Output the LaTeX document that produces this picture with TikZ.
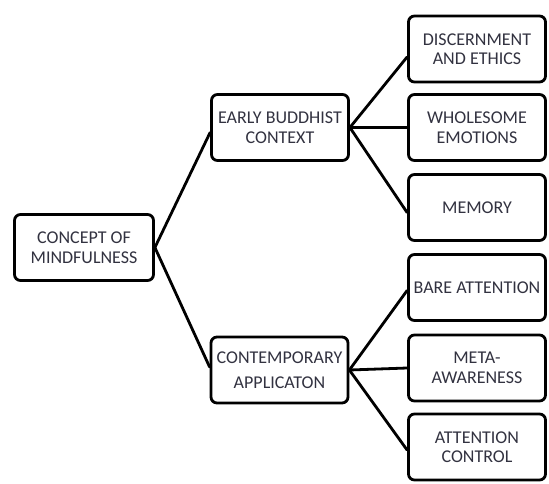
\documentclass[tikz,border=0pt]{standalone}
\usepackage{fontspec}
\setmainfont{Carlito}
\usepackage{tikz}
\definecolor{labelgray}{RGB}{50,50,64}

\begin{document}
\begin{tikzpicture}[x=1pt, y=-1pt, line width=2.8pt,
    box/.style={draw=black, rounded corners=6pt, fill=white,
        minimum width=137pt, minimum height=66pt, inner sep=1pt,
        align=center, text=labelgray,
        font=\fontsize{18}{19.5}\selectfont},
    link/.style={draw=black, line cap=round}]
    \useasboundingbox (0,0) rectangle (549,483);

    % Root of the tree
    \node[box, minimum width=139pt] (concept) at (84,247.5) {CONCEPT OF\\MINDFULNESS};

    % Two branches
    \node[box] (early) at (280,127.5) {EARLY BUDDHIST\\CONTEXT};
    \node[box] (contemp) at (279.5,370) {CONTEMPORARY\\[5pt]APPLICATON};

    % Leaves of the early branch
    \node[box] (discern) at (477,49) {DISCERNMENT\\AND ETHICS};
    \node[box] (whole) at (477,127.5) {WHOLESOME\\EMOTIONS};
    \node[box] (memory) at (477,207.5) {MEMORY};

    % Leaves of the contemporary branch
    \node[box] (bare) at (477,287.5) {BARE ATTENTION};
    \node[box] (meta) at (477,368) {META-\\AWARENESS};
    \node[box] (control) at (477,447) {ATTENTION\\CONTROL};

    % Connectors
    \draw[link] (concept.east) -- ([yshift=-5pt]early.west);
    \draw[link] (concept.east) -- ([yshift=3pt]contemp.west);
    \draw[link] (early.east) -- ([yshift=-8pt]discern.west);
    \draw[link] (early.east) -- (whole.west);
    \draw[link] (early.east) -- ([yshift=-5pt]memory.west);
    \draw[link] (contemp.east) -- ([yshift=-3pt]bare.west);
    \draw[link] (contemp.east) -- (meta.west);
    \draw[link] (contemp.east) -- ([yshift=-3pt]control.west);

\end{tikzpicture}
\end{document}
